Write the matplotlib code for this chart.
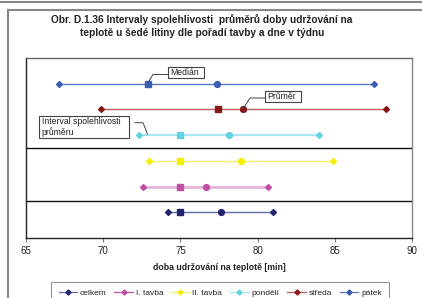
import matplotlib
matplotlib.use("Agg")
import matplotlib.pyplot as plt
from matplotlib.lines import Line2D
from matplotlib.patches import Rectangle

plt.rcParams['font.family'] = ['Liberation Sans', 'DejaVu Sans']

categories = ['celkem', 'I. tavba', 'II. tavba', 'pondělí', 'středa', 'pátek']
lower = [74.2, 72.55, 72.99, 72.34, 69.86, 67.16]
median = [75.0, 75.0, 75.0, 74.97, 77.46, 72.92]
mean = [77.61, 76.64, 78.92, 78.17, 79.08, 77.35]
upper = [81.02, 80.69, 84.88, 84.0, 88.32, 87.52]
xticks = [65, 70, 75, 80, 85, 90]

marker_colors = ['#22236e', '#c04fa4', '#f2f000', '#62d2e0', '#861818', '#3a5db4']
line_colors = ['#6a6aa6', '#e6b8dc', '#f2ee70', '#aee6f0', '#bc5e5e', '#5a78c4']
line_widths = [1.0, 2.2, 1.0, 1.6, 1.0, 1.0]

W, H = 422, 298
fig = plt.figure(figsize=(W/100, H/100), dpi=100)
ax = fig.add_axes([26/W, 1 - 238/H, (412-26)/W, (238-58)/H])

for i, cat in enumerate(categories):
    y = i + 1
    ax.plot([lower[i], upper[i]], [y, y], color=line_colors[i], lw=line_widths[i], zorder=2)
    ax.plot([lower[i], upper[i]], [y, y], ls='none', marker='D', ms=3.0,
            color=marker_colors[i], zorder=3)
    ax.plot([median[i]], [y], ls='none', marker='s', ms=4.6, color=marker_colors[i], zorder=3)
    ax.plot([mean[i]], [y], ls='none', marker='o', ms=4.2, color=marker_colors[i], zorder=3)

for sep in [1.43, 3.5]:
    ax.axhline(sep, color='#111111', lw=1.0, zorder=1)

ax.set_xlim(65, 90)
ax.set_ylim(0, 7)
ax.set_yticks([])
ax.set_xticks(xticks)
ax.set_xticklabels([str(t) for t in xticks], fontsize=7, color='#222222')
ax.tick_params(axis='x', direction='out', length=3, width=0.8, color='#808080', pad=2.5)
ax.spines['left'].set_color('#222222')
ax.spines['bottom'].set_color('#222222')
ax.spines['top'].set_color('#666666')
ax.spines['right'].set_color('#888888')
for s in ax.spines.values():
    s.set_linewidth(1.0)

ax.set_xlabel('doba udržování na teplotě [min]', fontsize=6.3, fontweight='bold',
              color='#222222', labelpad=5)


def fx(px):
    return px / W


def fy(py):
    return 1 - py / H


def callout(x0, y0, x1, y1, lines_xy, text, tx, ty):
    fig.add_artist(Rectangle((fx(x0), fy(y1)), (x1 - x0) / W, (y1 - y0) / H,
                             transform=fig.transFigure, fc='white', ec='#444444', lw=0.8,
                             zorder=5))
    xs = [fx(p[0]) for p in lines_xy]
    ys = [fy(p[1]) for p in lines_xy]
    fig.add_artist(Line2D(xs, ys, color='#444444', lw=0.7, transform=fig.transFigure,
                          zorder=5))
    fig.text(fx(tx), fy(ty), text, fontsize=6.2, ha='left', va='center', color='#222222',
             linespacing=1.25, zorder=6)


callout(168, 67, 204, 78, [(168, 74.5), (153, 74.5), (148.5, 82)], 'Medián', 170.5, 72.5)
callout(265, 91, 301, 102, [(265, 98), (250, 98), (244, 107.5)], 'Průměr', 267.5, 96.5)
callout(39, 116, 129, 138, [(135, 122.7), (143, 122.7), (147.5, 134)],
        'Interval spolehlivosti\nprůměru', 41.5, 127)

fig.text(fx(202), fy(20), 'Obr. D.1.36 Intervaly spolehlivosti  průměrů doby udržování na',
         ha='center', va='center', fontsize=7.3, fontweight='bold', color='#222222')
fig.text(fx(202), fy(33), 'teplotě u šedé litiny dle pořadí tavby a dne v týdnu',
         ha='center', va='center', fontsize=7.3, fontweight='bold', color='#222222')

# outer frame lines
fig.add_artist(Line2D([0, 1], [fy(1.5), fy(1.5)], color='#888888', lw=1.5,
                      transform=fig.transFigure))
fig.add_artist(Line2D([fx(8), 1], [fy(10), fy(10)], color='#888888', lw=1.5,
                      transform=fig.transFigure))
fig.add_artist(Line2D([fx(8), fx(8)], [fy(10), 0], color='#888888', lw=1.5,
                      transform=fig.transFigure))

handles = [Line2D([], [], color=line_colors[i] if i != 1 else marker_colors[i], lw=0.9,
                  marker='D', ms=2.6, mfc=marker_colors[i], mec=marker_colors[i])
           for i in range(len(categories))]
leg = fig.legend(handles, categories, loc='upper left', bbox_to_anchor=(fx(51), fy(282)),
                 ncol=6, fontsize=6, frameon=True, fancybox=False, edgecolor='#777777',
                 handlelength=2.2, handletextpad=0.35, columnspacing=0.95, borderpad=0.9,
                 borderaxespad=0)
leg.get_frame().set_linewidth(0.8)
for t in leg.get_texts():
    t.set_color('#222222')

fig.savefig('out.png', dpi=100)
